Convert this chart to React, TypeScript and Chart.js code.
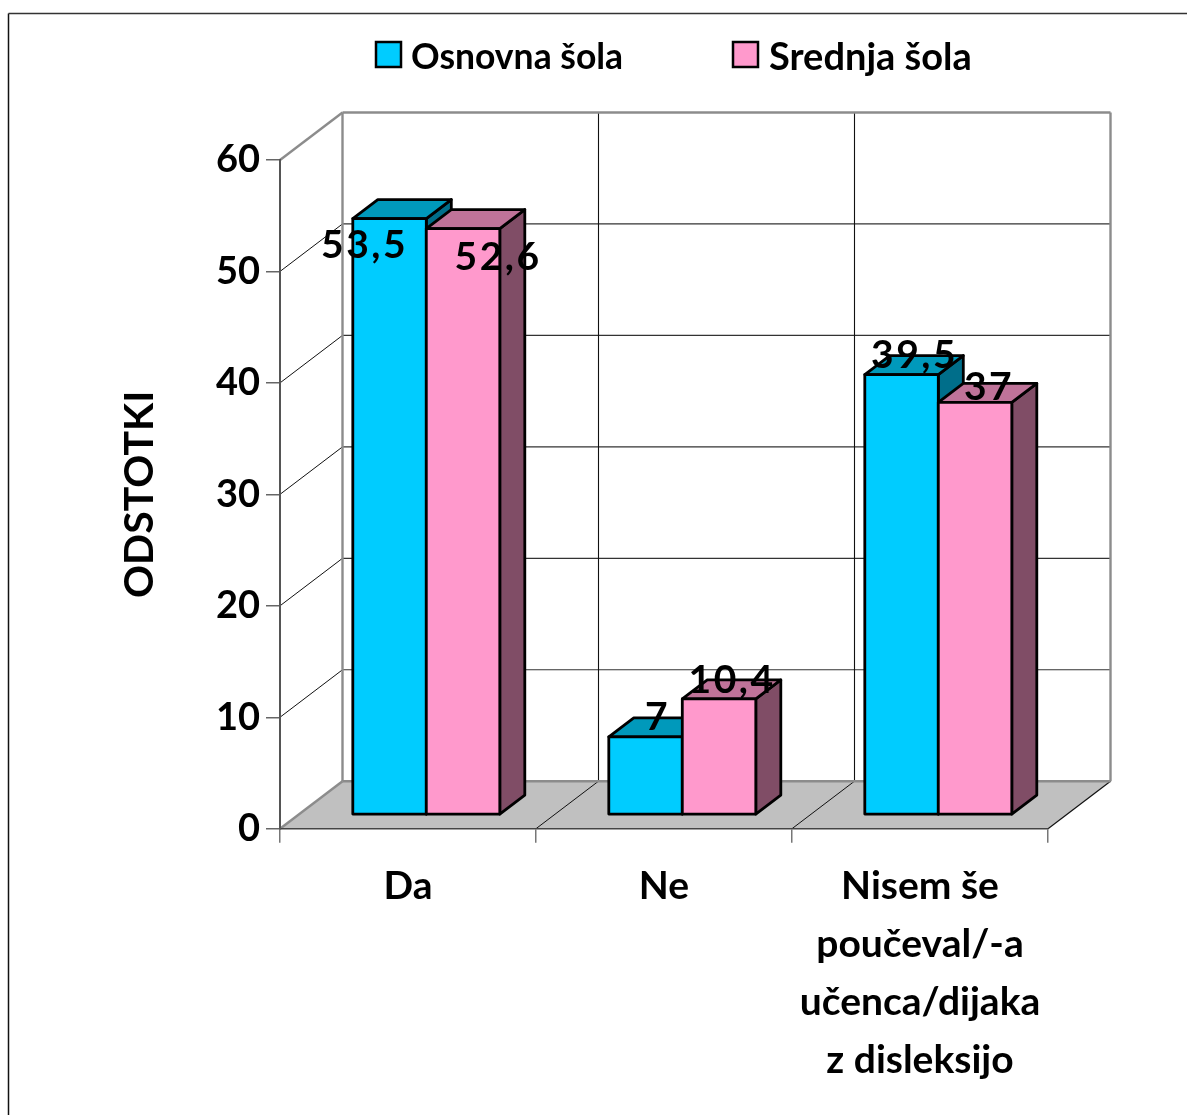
import React, { useEffect, useRef } from "react";
import { Chart, registerables } from "chart.js";

Chart.register(...registerables);

const categories = ["Da", "Ne", ["Nisem še", "poučeval/-a", "učenca/dijaka", "z disleksijo"]];
const osnovnaSola = [53.5, 7, 39.5];
const srednjaSola = [52.6, 10.4, 37];
const yTicks = { min: 0, max: 60, stepSize: 10 };
const axisTitle = "ODSTOTKI";

const FONT = "Lato, 'Noto Sans', sans-serif";
const frontColors = ["#00CCFF", "#FF99CC"];
const topColors = ["#0099BB", "#BF7399"];
const sideColors = ["#006E8A", "#804D66"];
const WALL = { dx: 62.5, dy: -47.5 };
const BAR_SHIFT = { dx: 18.3, dy: -13.9 };
const BAR_DEPTH = { dx: 25, dy: -19 };
// label nudges from each bar's front-top centre, [series][category]
const labelNudges = [
  [[-25, 27], [12, -19], [13, -19]],
  [[35, 29], [13, -18], [14, -15]],
];
const legendItems = [
  { box: 376, text: 411, size: 35.5 },
  { box: 733, text: 769, size: 38 },
];

function poly(ctx: CanvasRenderingContext2D, pts: number[][], fill?: string, stroke?: string, lw = 2.8) {
  ctx.beginPath();
  pts.forEach((p, i) => (i ? ctx.lineTo(p[0], p[1]) : ctx.moveTo(p[0], p[1])));
  ctx.closePath();
  if (fill) {
    ctx.fillStyle = fill;
    ctx.fill();
  }
  if (stroke) {
    ctx.strokeStyle = stroke;
    ctx.lineWidth = lw;
    ctx.lineJoin = "round";
    ctx.stroke();
  }
}

function line(ctx: CanvasRenderingContext2D, x1: number, y1: number, x2: number, y2: number, color: string, lw: number) {
  ctx.beginPath();
  ctx.moveTo(x1, y1);
  ctx.lineTo(x2, y2);
  ctx.strokeStyle = color;
  ctx.lineWidth = lw;
  ctx.stroke();
}

const scene = {
  id: "scene3d",
  beforeDraw(chart: any) {
    const { ctx, scales } = chart;
    const x = scales.x;
    const y = scales.y;
    const L = x.left, R = x.right, B = y.bottom, T = y.top;
    ctx.save();
    ctx.fillStyle = "#fff";
    ctx.fillRect(0, 0, chart.width, chart.height);
    // page frame
    line(ctx, 8.5, 13.5, 8.5, chart.height, "#111", 1.5);
    line(ctx, 8.5, 13.5, chart.width, 13.5, "#333", 1.5);
    // floor
    poly(ctx, [[L, B], [R, B], [R + WALL.dx, B + WALL.dy], [L + WALL.dx, B + WALL.dy]], "#C0C0C0");
    // gridlines on walls
    y.ticks.forEach((t: any) => {
      const py = y.getPixelForValue(t.value);
      if (t.value > yTicks.min && t.value < yTicks.max) {
        line(ctx, L, py, L + WALL.dx, py + WALL.dy, "#111", 1);
        line(ctx, L + WALL.dx, py + WALL.dy, R + WALL.dx, py + WALL.dy, "#333", 1.2);
      }
    });
    categories.forEach((_, i) => {
      if (i === 0) return;
      const px = x.getPixelForValue(i - 0.5);
      line(ctx, px + WALL.dx, T + WALL.dy, px + WALL.dx, B + WALL.dy, "#111", 1.1);
      line(ctx, px, B, px + WALL.dx, B + WALL.dy, "#111", 1);
    });
    line(ctx, R, B, R + WALL.dx, B + WALL.dy, "#111", 1.2);
    // wall outline
    const gray = "#8C8C8C";
    line(ctx, L, T, L + WALL.dx, T + WALL.dy, gray, 2.4);
    line(ctx, L, B, L + WALL.dx, B + WALL.dy, gray, 2.4);
    line(ctx, L + WALL.dx, T + WALL.dy, L + WALL.dx, B + WALL.dy, gray, 2.4);
    line(ctx, L + WALL.dx, T + WALL.dy, R + WALL.dx, T + WALL.dy, gray, 2.4);
    line(ctx, R + WALL.dx, T + WALL.dy, R + WALL.dx, B + WALL.dy, gray, 2.4);
    line(ctx, L + WALL.dx, B + WALL.dy, R + WALL.dx, B + WALL.dy, gray, 2.4);
    ctx.restore();
  },
  beforeDatasetDraw() {
    return false;
  },
  afterDatasetsDraw(chart: any) {
    const { ctx, data } = chart;
    ctx.save();
    ctx.translate(BAR_SHIFT.dx, BAR_SHIFT.dy);
    data.datasets.forEach((_: any, s: number) => {
      chart.getDatasetMeta(s).data.forEach((bar: any) => {
        const l = bar.x - bar.width / 2;
        const r = bar.x + bar.width / 2;
        const t = bar.y;
        const b = bar.base;
        const d = BAR_DEPTH;
        poly(ctx, [[r, t], [r + d.dx, t + d.dy], [r + d.dx, b + d.dy], [r, b]], sideColors[s], "#000");
        poly(ctx, [[l, t], [l + d.dx, t + d.dy], [r + d.dx, t + d.dy], [r, t]], topColors[s], "#000");
        bar.draw(ctx);
        poly(ctx, [[l, t], [r, t], [r, b], [l, b]], undefined, "#000");
      });
    });
    ctx.restore();
    // value labels
    ctx.save();
    ctx.fillStyle = "#000";
    ctx.font = `bold 39px ${FONT}`;
    (ctx as any).letterSpacing = "2.5px";
    ctx.textAlign = "center";
    ctx.textBaseline = "middle";
    data.datasets.forEach((ds: any, s: number) => {
      chart.getDatasetMeta(s).data.forEach((bar: any, i: number) => {
        const txt = String(ds.data[i]).replace(".", ",");
        const n = labelNudges[s][i];
        ctx.fillText(txt, bar.x + BAR_SHIFT.dx + n[0], bar.y + BAR_SHIFT.dy + n[1]);
      });
    });
    (ctx as any).letterSpacing = "0px";
    // legend
    ctx.textAlign = "left";
    data.datasets.forEach((ds: any, s: number) => {
      const it = legendItems[s];
      ctx.fillStyle = frontColors[s];
      ctx.fillRect(it.box, 42, 25, 25);
      ctx.strokeStyle = "#000";
      ctx.lineWidth = 2.5;
      ctx.strokeRect(it.box, 42, 25, 25);
      ctx.fillStyle = "#000";
      ctx.font = `bold ${it.size}px ${FONT}`;
      ctx.fillText(ds.label, it.text, 57.5);
    });
    ctx.restore();
  },
};

export default function App() {
  const ref = useRef<HTMLCanvasElement>(null);
  useEffect(() => {
    const chart = new Chart(ref.current as HTMLCanvasElement, {
      type: "bar",
      data: {
        labels: categories as any,
        datasets: [
          { label: "Osnovna šola", data: osnovnaSola, backgroundColor: frontColors[0], borderWidth: 0 },
          { label: "Srednja šola", data: srednjaSola, backgroundColor: frontColors[1], borderWidth: 0 },
        ],
      },
      options: {
        responsive: false,
        animation: false,
        layout: { padding: { left: 110, right: 139, top: 160, bottom: 0 } },
        plugins: { legend: { display: false }, title: { display: false }, tooltip: { enabled: false } },
        datasets: { bar: { categoryPercentage: 147 / 256, barPercentage: 1 } },
        scales: {
          x: {
            afterFit(s: any) {
              s.height = 286.3;
              s.paddingLeft = 0;
              s.paddingRight = 0;
            },
            grid: { drawOnChartArea: false, drawTicks: true, tickLength: 14, color: "#777", lineWidth: 1.5 },
            border: { display: true, color: "#444", width: 1.5 },
            ticks: {
              autoSkip: false,
              maxRotation: 0,
              minRotation: 0,
              padding: 15,
              color: "#000",
              font: { family: FONT, size: 39, weight: "bold", lineHeight: "58px" },
            },
          },
          y: {
            min: yTicks.min,
            max: yTicks.max,
            afterFit(s: any) {
              s.width = 170;
              s.paddingTop = 0;
              s.paddingBottom = 0;
            },
            grid: { drawOnChartArea: false, drawTicks: true, tickLength: 14, color: "#666", lineWidth: 1.5 },
            border: { display: true, color: "#555", width: 2 },
            ticks: {
              stepSize: yTicks.stepSize,
              padding: 6,
              color: "#000",
              font: { family: FONT, size: 38, weight: "bold" },
            },
            title: {
              display: true,
              text: axisTitle,
              color: "#000",
              padding: { top: 5, bottom: 0 },
              font: { family: FONT, size: 41, weight: "bold" },
            },
          },
        },
      } as any,
      plugins: [scene as any],
    });
    return () => chart.destroy();
  }, []);
  return (
    <div style={{ position: "absolute", left: 0, top: 0, width: 1187, height: 1115 }}>
      <canvas ref={ref} width={1187} height={1115} style={{ display: "block" }} />
    </div>
  );
}
